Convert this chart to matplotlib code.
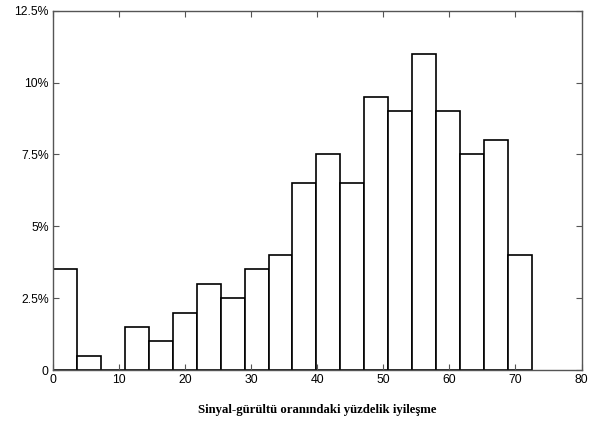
import matplotlib.pyplot as plt
import numpy as np

# bin edges of the histogram (20 bins from 0 to 72.5)
edges = np.linspace(0, 72.5, 21)
# percentage of samples per bin
percent = [3.5, 0.5, 0, 1.5, 1, 2, 3, 2.5, 3.5, 4,
           6.5, 7.5, 6.5, 9.5, 9, 11, 9, 7.5, 8, 4]
yticks = [0, 2.5, 5, 7.5, 10, 12.5]
ylabels = ['0', '2.5%', '5%', '7.5%', '10%', '12.5%']
xticks = [0, 10, 20, 30, 40, 50, 60, 70, 80]

plt.rcParams['font.family'] = ['Liberation Sans', 'DejaVu Sans']

fig = plt.figure(figsize=(5.94, 4.21), dpi=100)
ax = fig.add_axes([0.0892, 0.1211, 0.8898, 0.8535])

width = edges[1] - edges[0]
ax.bar(edges[:-1], percent, width=width, align='edge',
       facecolor='white', edgecolor='black', linewidth=1.2)

ax.set_xlim(0, 80)
ax.set_ylim(0, 12.5)
ax.set_xticks(xticks)
ax.set_yticks(yticks)
ax.set_yticklabels(ylabels)
ax.tick_params(direction='in', top=True, right=True, length=4,
               labelsize=8.8, width=0.8, color='#555555', pad=3)
for s in ax.spines.values():
    s.set_color('#555555')
    s.set_linewidth(1)

ax.set_xlabel('Sinyal-gürültü oranındaki yüzdelik iyileşme',
              family=['Liberation Serif', 'DejaVu Serif'], fontweight='bold',
              fontsize=9.2, labelpad=13)

fig.savefig('out.png', dpi=100)
